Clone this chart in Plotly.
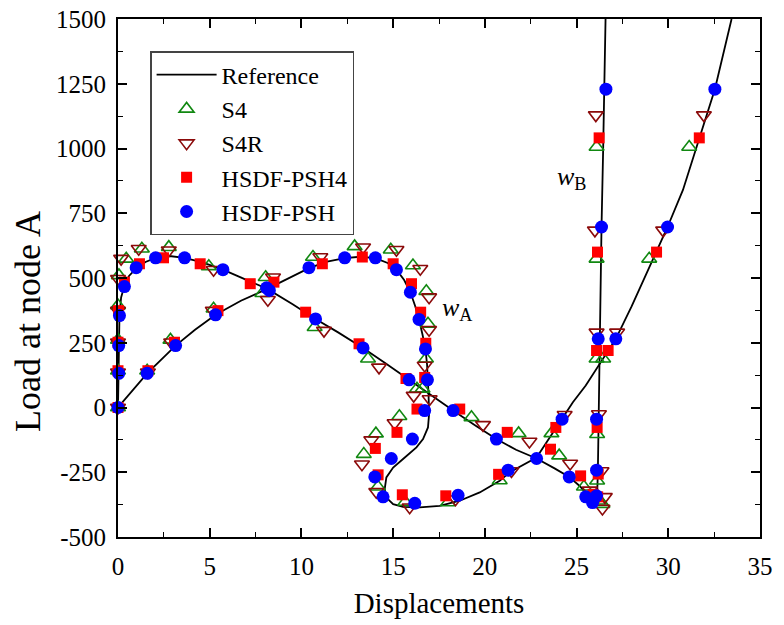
import plotly.graph_objects as go

# ---------------- data ----------------
# Reference solution, w_A curve
ref_wa_x = [0, 0.5, 1.59, 3.14, 4.2, 5.32, 6.7, 8.14, 9.3, 10.41, 11.4, 12.36, 13.2, 14.03, 14.7,
            15.18, 15.6, 15.94, 16.2, 16.41, 16.6, 16.76, 16.85, 16.9, 16.93, 16.96, 16.9, 16.63,
            16.27, 15.54, 15.0, 14.63, 14.54, 14.63, 15.0, 15.54, 16.45, 17.54, 18.63, 19.72,
            20.81, 21.36, 22.1, 22.82, 23.5, 24.18, 24.8, 25.5, 26.27, 27.14, 28.0, 29.0, 29.96,
            30.8, 31.69, 32.54, 33.45]
ref_wa_y = [0, 42, 132, 239, 300, 358, 412, 458, 500, 538, 563, 577, 582, 577, 558,
            532, 492, 445, 392, 340, 282, 226, 165, 107, 50, -25, -77, -122,
            -154, -199, -232, -270, -315, -348, -373, -384, -386, -380, -360, -328,
            -283, -250, -222, -193, -120, -45, 20, 85, 168, 265, 390, 545, 697,
            840, 1041, 1229, 1500]
# Reference solution, w_B curve
ref_wb_x = [0, 0.02, 0.04, 0.08, 0.17, 0.35, 0.6, 1.0, 1.5, 2.05, 2.8, 3.63, 4.6, 5.72, 7.0,
            8.14, 9.5, 10.77, 12.0, 13.36, 14.6, 15.87, 17.0, 18.27, 19.5, 20.63, 21.7, 22.82,
            23.8, 24.6, 25.2, 25.6, 25.95, 26.12, 26.16, 26.2, 26.24, 26.3, 26.36, 26.45,
            26.52, 26.58]
ref_wb_y = [0, 130, 240, 355, 425, 470, 508, 538, 562, 578, 585, 578, 560, 532, 493,
            458, 400, 342, 290, 230, 170, 107, 48, -12, -70, -122, -163, -197,
            -235, -268, -305, -340, -362, -340, -250, -45, 150, 400, 697, 1000,
            1230, 1500]

# S4
s4_x = [0.00, 0.00, 1.59, 0.00, 2.86, 0.00, 5.21, 0.05, 8.05, 0.45, 10.63, 1.30, 12.90, 2.77,
        14.87, 4.95, 16.08, 7.87, 16.81, 10.72, 16.90, 13.63, 16.79, 16.30, 16.60, 19.27,
        15.34, 21.84, 14.06, 24.05, 13.40, 25.40, 14.17, 26.41, 15.66, 26.25, 17.99, 26.12,
        20.81, 26.12, 23.63, 26.09, 26.45, 26.09, 28.96, 26.09, 31.14]
s4_y = [0, 142, 142, 261, 261, 394, 381, 510, 503, 574, 581, 613, 622, 619,
        609, 545, 548, 441, 449, 310, 323, 188, 188, 72, 72, -38,
        -34, -100, -101, -186, -180, -306, -306, -373, -365, -360, -367, -283,
        -282, -103, -100, 188, 188, 574, 574, 1006, 1006]

# S4R
s4r_x = [0.00, 0.00, 1.63, 0.00, 2.90, 0.00, 5.17, 0.00, 8.45, 0.17, 11.03, 1.13, 13.36, 2.77,
         15.18, 5.21, 16.48, 8.17, 16.96, 11.23, 16.96, 14.23, 16.72, 16.12, 16.99, 19.90,
         15.08, 22.43, 13.81, 24.65, 13.30, 25.72, 14.08, 26.41, 15.90, 26.54, 18.40, 26.36,
         21.45, 26.22, 24.35, 26.09, 27.21, 26.00, 29.72, 26.05, 31.94]
s4r_y = [0, 136, 136, 252, 252, 374, 374, 497, 503, 575, 581, 613, 619, 607,
         609, 532, 536, 416, 426, 297, 300, 155, 162, 46, 33, -67,
         -60, -131, -126, -216, -219, -320, -325, -390, -385, -345, -354, -245,
         -245, -25, -28, 290, 290, 684, 684, 1129, 1129]

# HSDF-PSH4
psh4_x = [0.00, 0.00, 1.63, 0.00, 3.08, 0.03, 5.45, 0.35, 8.50, 1.17, 11.14, 2.48, 13.32, 4.48,
          15.00, 7.21, 16.00, 10.23, 16.50, 13.14, 16.78, 15.70, 16.72, 16.30, 18.63, 15.21,
          21.22, 14.03, 23.58, 14.18, 25.22, 15.50, 25.90, 17.87, 26.15, 20.75, 26.18, 23.87,
          26.12, 26.09, 26.72, 26.14, 29.36, 26.23, 31.69]
psh4_y = [0, 142, 142, 252, 252, 374, 374, 484, 484, 555, 555, 578, 581, 555,
          555, 478, 478, 368, 368, 246, 248, 112, 116, -6, -6, -96,
          -96, -158, -161, -260, -264, -337, -335, -341, -345, -258, -257, -77,
          -77, 220, 220, 600, 600, 1041, 1041]

# HSDF-PSH
psh_x = [0.00, 0.04, 1.59, 0.04, 3.14, 0.08, 5.32, 0.35, 8.10, 0.99, 10.41, 2.05, 12.36, 3.63,
         14.03, 5.72, 15.18, 8.25, 15.94, 10.77, 16.41, 13.36, 16.76, 15.87, 16.87, 18.27,
         16.72, 20.63, 16.05, 22.82, 14.90, 24.60, 14.00, 25.50, 14.45, 25.87, 16.18, 26.09,
         18.54, 26.09, 21.27, 26.09, 24.21, 26.18, 27.14, 26.36, 29.96, 26.60, 32.54]
psh_y = [0, 132, 132, 239, 239, 355, 358, 467, 462, 540, 540, 578, 578, 578,
         578, 532, 532, 452, 445, 342, 340, 230, 226, 107, 107, -12,
         -12, -122, -122, -197, -197, -268, -268, -345, -345, -367, -370, -341,
         -339, -242, -242, -45, -45, 265, 265, 697, 697, 1229, 1229]

x_tickvals = [0, 5, 10, 15, 20, 25, 30, 35]
x_ticktext = ["0", "5", "10", "15", "20", "25", "30", "35"]
y_tickvals = [-500, -250, 0, 250, 500, 750, 1000, 1250, 1500]
y_ticktext = ["-500", "-250", "0", "250", "500", "750", "1000", "1250", "1500"]

FONT = "Liberation Serif"

fig = go.Figure()

fig.add_trace(go.Scatter(
    x=ref_wa_x + [None] + ref_wb_x, y=ref_wa_y + [None] + ref_wb_y,
    mode="lines", name="Reference", line=dict(color="black", width=1.8),
    legendgroup="a"))
fig.add_trace(go.Scatter(
    x=s4_x, y=s4_y, mode="markers", name="S4", cliponaxis=False, legendgroup="b",
    marker=dict(symbol="triangle-up-open", size=13, color="#118811",
                line=dict(width=1.6, color="#118811"))))
fig.add_trace(go.Scatter(
    x=s4r_x, y=s4r_y, mode="markers", name="S4R", cliponaxis=False, legendgroup="c",
    marker=dict(symbol="triangle-down-open", size=13, color="#8b0a0a",
                line=dict(width=1.6, color="#8b0a0a"))))
fig.add_trace(go.Scatter(
    x=psh4_x, y=psh4_y, mode="markers", name="HSDF-PSH4", cliponaxis=False, legendgroup="d",
    marker=dict(symbol="square", size=11, color="#ff0000", line=dict(width=0))))
fig.add_trace(go.Scatter(
    x=psh_x, y=psh_y, mode="markers", name="HSDF-PSH", cliponaxis=False, legendgroup="e",
    marker=dict(symbol="circle", size=13, color="#0000ff", line=dict(width=0))))

fig.add_annotation(x=18.5, y=380, xref="x", yref="y", showarrow=False,
                   text="<i>w</i><sub>A</sub>", font=dict(family=FONT, size=26, color="black"))
fig.add_annotation(x=24.74, y=885, xref="x", yref="y", showarrow=False,
                   text="<i>w</i><sub>B</sub>", font=dict(family=FONT, size=26, color="black"))
# y-axis title
fig.add_annotation(x=28, y=320, xref="paper", yref="paper", showarrow=False,
                   text="Load at node A", textangle=-90,
                   font=dict(family=FONT, size=36, color="black"))

axis_common = dict(showline=True, linewidth=2, linecolor="black", mirror="ticks",
                   ticks="inside", ticklen=9, tickwidth=1.6, tickcolor="black",
                   showgrid=False, zeroline=False,
                   tickfont=dict(family=FONT, size=25, color="black", weight="normal"))

fig.update_xaxes(range=[0, 35], tickvals=x_tickvals, ticktext=x_ticktext,
                 ticklabelstandoff=6,
                 minor=dict(ticks="inside", dtick=2.5, tick0=0, ticklen=5, tickwidth=1.4,
                            tickcolor="black", showgrid=False),
                 title=dict(text="Displacements",
                            font=dict(family=FONT, size=29, color="black"), standoff=14),
                 **axis_common)
fig.update_yaxes(range=[-500, 1500], tickvals=y_tickvals, ticktext=y_ticktext,
                 ticklabelstandoff=5,
                 minor=dict(ticks="inside", dtick=125, tick0=0, ticklen=5, tickwidth=1.4,
                            tickcolor="black", showgrid=False),
                 **axis_common)

W, H = 784, 625
ML, MR, MT, MB = 118, 24, 19, 88
fig.update_layout(
    width=W, height=H,
    margin=dict(l=ML, r=MR, t=MT, b=MB, autoexpand=False),
    paper_bgcolor="white", plot_bgcolor="white",
    font=dict(family=FONT, color="black"),
    legend=dict(x=0.05, y=0.938, xanchor="left", yanchor="top",
                bgcolor="white", bordercolor="#444", borderwidth=1.5,
                font=dict(family=FONT, size=24, color="black"),
                tracegroupgap=0, itemwidth=60),
)
# convert y-title annotation pixel position to paper coords
ann = fig.layout.annotations[2]
ann.x = (28 - ML) / (W - ML - MR)
ann.y = 1 - (322 - MT) / (H - MT - MB)
ann.xanchor = "center"
ann.yanchor = "middle"

fig.write_html("out.html", config={"displayModeBar": False},
               post_script="document.body.style.margin='0';")
